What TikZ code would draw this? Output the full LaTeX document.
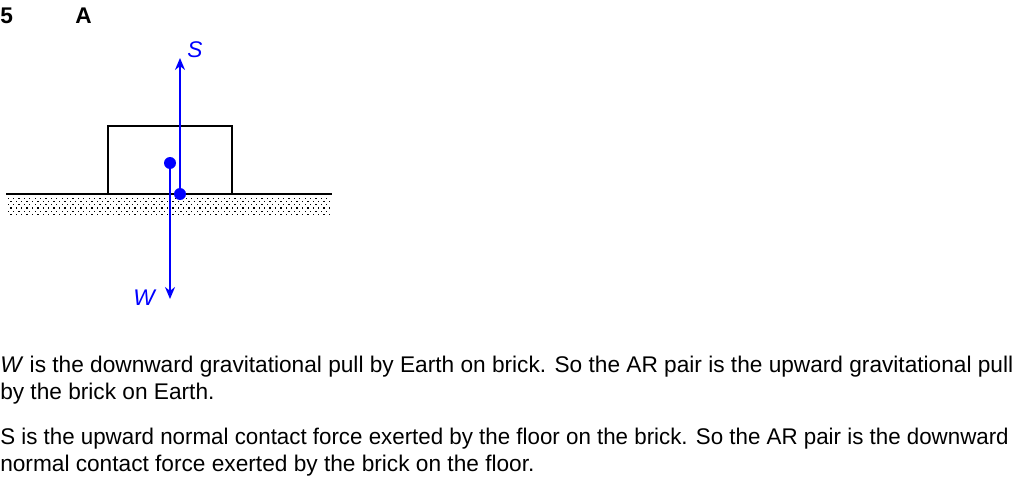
\documentclass[tikz,border=0pt]{standalone}
\usepackage{fontspec}
\setmainfont{Liberation Sans}
\usetikzlibrary{arrows.meta}
\definecolor{forceblue}{RGB}{0,0,255}
\tikzset{
  force/.style={color=forceblue,line width=1.5,-{Stealth[length=9,width=7.5]}},
  pt/.style={circle,fill=forceblue,inner sep=0pt,minimum size=9pt},
  body/.style={anchor=base west,inner sep=0pt,font=\fontsize{17}{20}\selectfont},
  lab/.style={anchor=base west,inner sep=0pt,text=forceblue,font=\itshape\fontsize{17}{20}\selectfont},
  head/.style={anchor=base west,inner sep=0pt,font=\bfseries\fontsize{17}{20}\selectfont}
}
\begin{document}
\begin{tikzpicture}[x=0.75pt,y=0.75pt,yscale=-1,xscale=1]
\useasboundingbox (0,0) rectangle (1015,492);

% Heading
\node [head] (n5) at (0,24) {5};
\node [head] (nA) at (75,24) {A};

%Shape: Ground (dotted fill)
\foreach \j in {0,...,5} {
  \pgfmathsetmacro{\off}{mod(\j,2)*2.7}
  \foreach \i in {0,...,59} {
    \fill (7.5+\off+5.4*\i,197.5+3.3*\j) rectangle ++(1.3,1.3);
  }
}
\draw [line width=1.5] (6,194) coordinate (gl) -- (332,194) coordinate (gr);

%Shape: Brick
\draw [line width=1.5] (108,194) -- (108,126) -- (232,126) -- (232,194);

% Points
\node [pt] (cg) at (170,163) {};
\node [pt] (contact) at (180,194) {};
\coordinate (tipS) at (180,58);
\coordinate (tipW) at (170,299);

%Straight Lines
\draw [force] (contact.center) -- (tipS);
\draw [force] (cg.center) -- (tipW);

% Text Node
\node [lab] (labS) at (187,58) {S};
\node [lab] (labW) at (133,305) {W};

% Text Node
\node [body] (para1a) at (0,372) {\textit{W} is the downward gravitational pull by Earth on brick. So the AR pair is the upward gravitational pull};
\node [body] (para1b) at (0,399) {by the brick on Earth.};
\node [body] (para2a) at (0,444) {\scalebox{0.985}[1]{S is the upward normal contact force exerted by the floor on the brick. So the AR pair is the downward}};
\node [body] (para2b) at (0,471) {normal contact force exerted by the brick on the floor.};

\end{tikzpicture}
\end{document}
